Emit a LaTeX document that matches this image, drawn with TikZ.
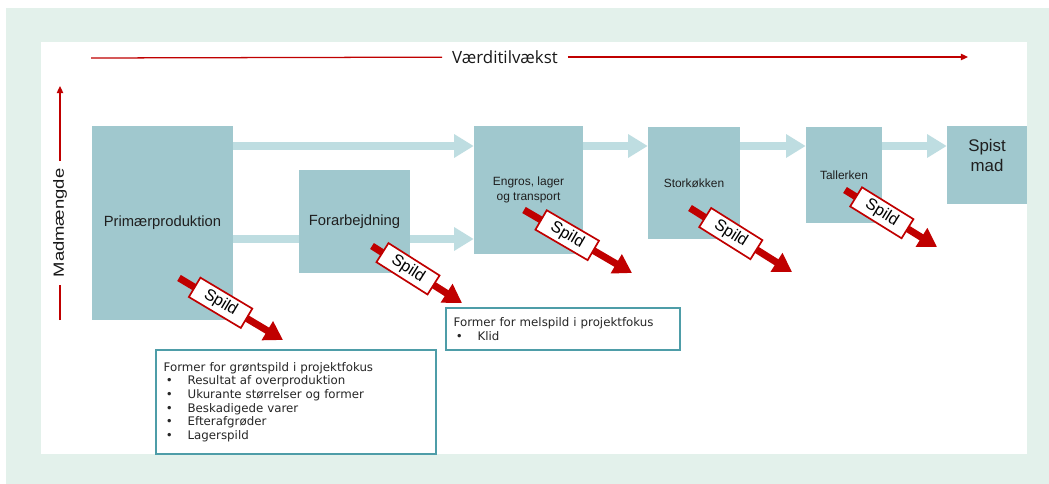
\documentclass[tikz,border=0pt]{standalone}
\usepackage{fontspec}
\setmainfont{Liberation Sans}
\newfontfamily\notefont{DejaVu Sans}
\newfontfamily\headfont{Open Sans}
\usetikzlibrary{arrows.meta}
\definecolor{framemint}{HTML}{E3F1EB}
\definecolor{stagefill}{HTML}{A0C8CE}
\definecolor{flowfill}{HTML}{BEDDE1}
\definecolor{wastered}{HTML}{C00000}
\definecolor{noteedge}{HTML}{4E9DA8}
\tikzset{
  stagebox/.style={
    fill=stagefill,
    draw=none,
    align=center,
    text=black!88,
    inner sep=0pt,
    font=\fontsize{8.5}{10.5}\selectfont
  },
  big stagebox/.style={stagebox,font=\fontsize{10.5}{12.5}\selectfont},
  end stagebox/.style={stagebox,font=\fontsize{12}{14}\selectfont},
  flow/.style={
    draw=flowfill,
    line width=5.7pt,
    -{Triangle[length=14pt,width=16pt]}
  },
  flow plain/.style={draw=flowfill,line width=5.7pt},
  waste/.style={
    draw=wastered,
    line width=5pt,
    -{Triangle[length=13pt,width=15pt]}
  },
  spildtag/.style={
    draw=wastered,
    line width=1.2pt,
    fill=white,
    sloped,
    pos=0.4,
    minimum width=43pt,
    minimum height=16pt,
    inner sep=1pt,
    text=black,
    font=\fontsize{11.5}{13}\selectfont
  },
  axisline/.style={draw=wastered,line width=0.9pt},
  axis arrow/.style={axisline,-{Triangle[length=5pt,width=4.5pt]}},
  axislabel/.style={inner sep=7pt,text=black!90},
  focusnote/.style={
    draw=noteedge,
    line width=1.4pt,
    fill=white,
    anchor=north west,
    align=left,
    inner xsep=5.5pt,
    inner ysep=0pt,
    text=black!85,
    font=\notefont\fontsize{8.4}{9.7}\selectfont
  }
}
\newcommand\bul{\makebox[17pt][l]{\hspace{1.5pt}\textbullet}}

\begin{document}
\begin{tikzpicture}[x=0.025cm,y=-0.025cm]
  \useasboundingbox (0,0) rectangle (1049,484);
  \fill[framemint] (6,8) rectangle (1049,484);
  \fill[white] (41,42) rectangle (1027,454);

  % axes
  \node[axislabel,font=\headfont\fontsize{12}{14}\selectfont] (value) at (505,57) {Værditilvækst};
  \coordinate (valuestart) at (91,58);
  \coordinate (valueend)   at (968,57);
  \draw[axisline]  (valuestart) -- (value);
  \draw[axis arrow] (value) -- (valueend);

  \node[axislabel,rotate=90,xscale=1.25,inner sep=4pt,font=\fontsize{10.5}{12}\selectfont] (amount) at (60,223) {Madmængde};
  \coordinate (amountstart) at (60,320);
  \coordinate (amountend)   at (60,86);
  \draw[axisline]  (amountstart) -- (amount);
  \draw[axis arrow] (amount) -- (amountend);

  % value chain
  \node[big stagebox,minimum width=100.3pt,minimum height=138pt] (prim)   at (162.5,223) {Primærproduktion};
  \node[big stagebox,minimum width=79pt,minimum height=73.3pt]   (forarb) at (354.5,221.5) {Forarbejdning};
  \node[stagebox,minimum width=77.5pt,minimum height=91pt]       (engros) at (528.5,190) {Engros, lager\\og transport};
  \node[stagebox,minimum width=65.4pt,minimum height=79.7pt]     (stork)  at (694,183) {Storkøkken};
  \node[stagebox,minimum width=54.1pt,minimum height=68.3pt]     (taller) at (844,175) {Tallerken};
  \node[stagebox,minimum width=56.9pt,minimum height=55.5pt,
        label={[end stagebox,fill=none,yshift=7pt]center:Spist\\mad}] (spist) at (987,165) {};

  \coordinate (upper) at (0,146);
  \coordinate (lower) at (0,239);
  \draw[flow]       (prim.east |- upper)   -- (engros.west |- upper);
  \draw[flow plain] (prim.east |- lower)   -- (forarb.west |- lower);
  \draw[flow]       (forarb.east |- lower) -- (engros.west |- lower);
  \draw[flow]       (engros.east |- upper) -- (stork.west |- upper);
  \draw[flow]       (stork.east |- upper)  -- (taller.west |- upper);
  \draw[flow]       (taller.east |- upper) -- (spist.west |- upper);

  % waste
  \coordinate (primw)   at (179,278); \coordinate (primwend)   at (283,340);
  \coordinate (forarbw) at (372,246); \coordinate (forarbwend) at (462,303);
  \coordinate (engrosw) at (524,210); \coordinate (engroswend) at (632,273);
  \coordinate (storkw)  at (690,208); \coordinate (storkwend)  at (792,272);
  \coordinate (tallerw) at (845,190); \coordinate (tallerwend) at (937,247);
  \draw[waste] (primw)   -- node[spildtag] {Spild} (primwend);
  \draw[waste] (forarbw) -- node[spildtag] {Spild} (forarbwend);
  \draw[waste] (engrosw) -- node[spildtag] {Spild} (engroswend);
  \draw[waste] (storkw)  -- node[spildtag] {Spild} (storkwend);
  \draw[waste] (tallerw) -- node[spildtag] {Spild} (tallerwend);

  % notes
  \node[focusnote,text width=188pt,minimum height=74pt] (greennote) at (155,349)
    {Former for grøntspild i projektfokus\\
     \bul Resultat af overproduktion\\
     \bul Ukurante størrelser og former\\
     \bul Beskadigede varer\\
     \bul Efterafgrøder\\
     \bul Lagerspild};
  \node[focusnote,text width=155.5pt,minimum height=29.9pt] (melnote) at (445,307)
    {Former for melspild i projektfokus\\
     \bul Klid};
\end{tikzpicture}
\end{document}
